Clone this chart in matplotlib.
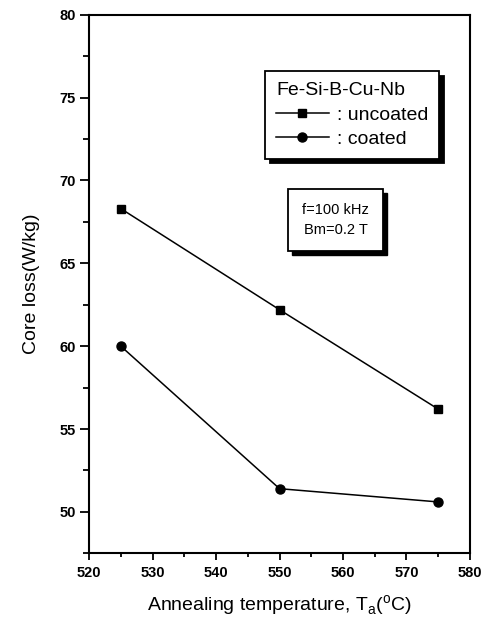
import matplotlib
matplotlib.use("Agg")
import matplotlib.pyplot as plt
from matplotlib.ticker import MultipleLocator
from matplotlib.patches import Rectangle

plt.rcParams['font.family'] = ['Liberation Sans', 'DejaVu Sans']

temps = [525, 550, 575]
uncoated = [68.3, 62.2, 56.2]
coated = [60.0, 51.4, 50.6]
xticks = [520, 530, 540, 550, 560, 570, 580]
yticks = [50, 55, 60, 65, 70, 75, 80]

fig = plt.figure(figsize=(4.84, 6.24), dpi=100)
ax = fig.add_axes([0.184, 0.1133, 0.787, 0.8631])

ax.plot(temps, uncoated, color='black', lw=1.1, marker='s', ms=5.5, label=': uncoated')
ax.plot(temps, coated, color='black', lw=1.1, marker='o', ms=6.5, label=': coated')

ax.set_xlim(520, 580)
ax.set_ylim(47.5, 80)
ax.set_xticks(xticks)
ax.set_xticklabels([str(v) for v in xticks], fontweight='bold', fontsize=10.5)
ax.set_yticks(yticks)
ax.set_yticklabels([str(v) for v in yticks], fontweight='bold', fontsize=10.5)
ax.xaxis.set_minor_locator(MultipleLocator(5))
ax.yaxis.set_minor_locator(MultipleLocator(2.5))
ax.tick_params(axis='both', which='both', direction='out', width=1.3)
ax.tick_params(axis='y', which='major', length=6.5, pad=3)
ax.tick_params(axis='y', which='minor', length=4)
ax.tick_params(axis='x', which='major', length=5, pad=4)
ax.tick_params(axis='x', which='minor', length=3)
for sp in ax.spines.values():
    sp.set_linewidth(1.5)

ax.set_xlabel('Annealing temperature, T$_\\mathregular{a}$($^\\mathregular{o}$C)', fontsize=14, labelpad=10)
ax.set_ylabel('Core loss(W/kg)', fontsize=14, labelpad=14)

leg = ax.legend(title='Fe-Si-B-Cu-Nb', loc='center',
                bbox_to_anchor=(0.454, 0.732, 0.475, 0.1635),
                fontsize=14, title_fontsize=14, alignment='left',
                handlelength=2.7, handletextpad=0.45, labelspacing=0.35,
                fancybox=False, framealpha=1, edgecolor='black',
                borderpad=0.55, borderaxespad=0,
                shadow={'ox': 3, 'oy': -3, 'color': 'black', 'alpha': 1})
leg.get_frame().set_linewidth(1.3)

note = 'f=100 kHz\nBm=0.2 T'
t = ax.text(0.647, 0.619, note, transform=ax.transAxes, ha='center', va='center',
            fontsize=10.5, color='black', linespacing=1.5, zorder=5,
            bbox=dict(boxstyle='square,pad=0.95', fc='white', ec='black', lw=1.3))

fig.canvas.draw()
bb = t.get_bbox_patch().get_window_extent()
off = 4
shadow = Rectangle((bb.x0 + off, bb.y0 - off), bb.width, bb.height,
                   transform=None, facecolor='black', edgecolor='black', zorder=4)
ax.add_artist(shadow)

fig.savefig('out.png', dpi=100)
